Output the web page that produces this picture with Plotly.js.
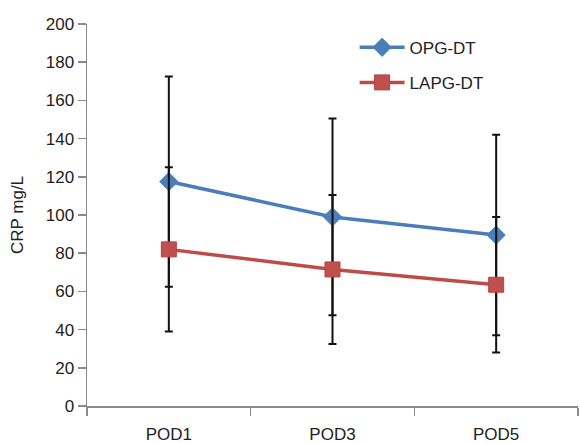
<!DOCTYPE html>
<html>
<head>
<meta charset="utf-8">
<script src="https://cdn.plot.ly/plotly-3.0.1.min.js"></script>
<style>html,body{margin:0;padding:0;background:#fff;}#chart{width:580px;height:443px;}</style>
</head>
<body>
<div id="chart"></div>
<script>
var categories = ["POD1", "POD3", "POD5"];
var opgValues = [117.5, 99, 89.5];
var opgErrors = [55, 51.5, 52.5];
var lapgValues = [82, 71.5, 63.5];
var lapgErrors = [43, 39, 35.5];
var yTicks = [0, 20, 40, 60, 80, 100, 120, 140, 160, 180, 200];

var font = "Liberation Sans, Arial, Helvetica, sans-serif";
var fs = 17;

var traces = [
  {
    x: categories, y: opgValues, name: "OPG-DT", type: "scatter", mode: "lines+markers",
    line: {color: "#4a7ebb", width: 3.5},
    marker: {symbol: "diamond", size: 14, color: "#4a7ebb", line: {color: "#4a7ebb", width: 1}},
    error_y: {type: "data", array: opgErrors, visible: true, color: "#111", thickness: 2, width: 4},
    legendgroup: "a"
  },
  {
    x: categories, y: lapgValues, name: "LAPG-DT", type: "scatter", mode: "lines+markers",
    line: {color: "#be4b48", width: 3.5},
    marker: {symbol: "square", size: 15, color: "#c0504d", line: {color: "#b8413e", width: 1}},
    error_y: {type: "data", array: lapgErrors, visible: true, color: "#111", thickness: 2, width: 4},
    legendgroup: "b"
  }
];

var layout = {
  width: 580, height: 443,
  margin: {l: 87, r: 2, t: 24, b: 37},
  paper_bgcolor: "#fff", plot_bgcolor: "#fff",
  font: {family: font, size: fs, color: "#222"},
  showlegend: true,
  legend: {x: 0.545, y: 0.985, xanchor: "left", yanchor: "top", bgcolor: "rgba(0,0,0,0)", itemwidth: 45,
           font: {family: font, size: fs, color: "#222"}, traceorder: "grouped", tracegroupgap: 10},
  xaxis: {
    type: "category", range: [-0.5, 2.5], showgrid: false, zeroline: false,
    showline: true, linecolor: "#8a8a8a", linewidth: 1.5,
    ticks: "outside", tickson: "boundaries", ticklen: 8, tickcolor: "#8a8a8a", tickwidth: 1.5,
    ticklabelstandoff: 12,
    tickfont: {family: font, size: fs, color: "#222"}
  },
  yaxis: {
    range: [0, 200], tickvals: yTicks, showgrid: false, zeroline: false,
    showline: true, linecolor: "#8a8a8a", linewidth: 1.5,
    ticks: "outside", ticklen: 8, tickcolor: "#8a8a8a", tickwidth: 1.5,
    tickfont: {family: font, size: fs, color: "#222"},
    title: {text: "CRP mg/L", font: {family: font, size: fs, color: "#222"}, standoff: 18}
  }
};

Plotly.newPlot("chart", traces, layout, {displayModeBar: false, staticPlot: true});
</script>
</body>
</html>
